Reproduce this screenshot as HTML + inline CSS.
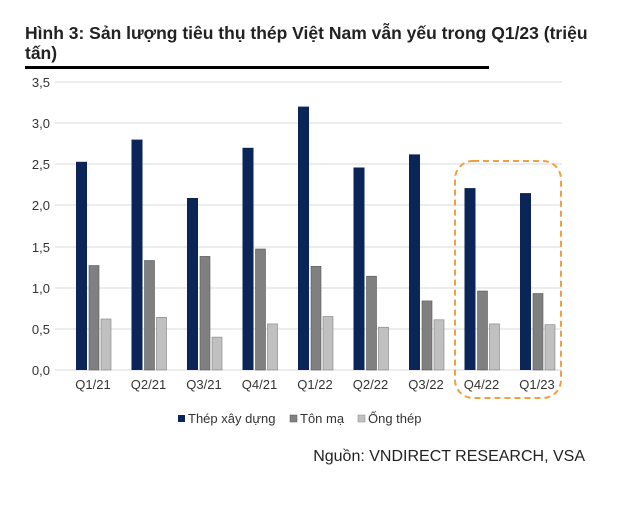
<!DOCTYPE html>
<html><head><meta charset="utf-8"><style>
body{margin:0;background:#fff;width:626px;height:506px;overflow:hidden;font-family:"Liberation Sans",Arial,sans-serif}
</style></head><body>
<svg width="626" height="506" xmlns="http://www.w3.org/2000/svg" font-family="Liberation Sans, Arial, sans-serif">
<text x="25" y="39" font-size="17.5" font-weight="bold" fill="#222">Hình 3: Sản lượng tiêu thụ thép Việt Nam vẫn yếu trong Q1/23 (triệu</text>
<text x="25" y="59" font-size="17.5" font-weight="bold" fill="#222">tấn)</text>
<rect x="25" y="66" width="464" height="3" fill="#000"/>
<g stroke="#d9d9d9" stroke-width="1">
<line x1="55" x2="562" y1="82" y2="82"/><line x1="55" x2="562" y1="123" y2="123"/><line x1="55" x2="562" y1="164" y2="164"/><line x1="55" x2="562" y1="205" y2="205"/><line x1="55" x2="562" y1="247" y2="247"/><line x1="55" x2="562" y1="288" y2="288"/><line x1="55" x2="562" y1="329" y2="329"/><line x1="55" x2="562" y1="370" y2="370"/>
</g>
<g font-size="13" fill="#333" text-anchor="end">
<text x="50" y="87">3,5</text><text x="50" y="128">3,0</text><text x="50" y="169">2,5</text><text x="50" y="210">2,0</text><text x="50" y="252">1,5</text><text x="50" y="293">1,0</text><text x="50" y="334">0,5</text><text x="50" y="375">0,0</text>
</g>
<g fill="#0b2558">
<rect x="76" y="161.8" width="11" height="208.2"/><rect x="131.5" y="139.6" width="11" height="230.4"/><rect x="187" y="198" width="11" height="172"/><rect x="242.5" y="147.8" width="11" height="222.2"/><rect x="298" y="106.6" width="11" height="263.4"/><rect x="353.5" y="167.5" width="11" height="202.5"/><rect x="409" y="154.4" width="11" height="215.6"/><rect x="464.5" y="188.1" width="11" height="181.9"/><rect x="520" y="193.1" width="11" height="176.9"/>
</g>
<g fill="#808080" stroke="#5a5a5a" stroke-width="0.6">
<rect x="89" y="265.5" width="10" height="104.5"/><rect x="144.5" y="260.5" width="10" height="109.5"/><rect x="200" y="256.4" width="10" height="113.6"/><rect x="255.5" y="249" width="10" height="121"/><rect x="311" y="266.3" width="10" height="103.7"/><rect x="366.5" y="276.2" width="10" height="93.8"/><rect x="422" y="300.9" width="10" height="69.1"/><rect x="477.5" y="291" width="10" height="79"/><rect x="533" y="293.5" width="10" height="76.5"/>
</g>
<g fill="#c0c0c0" stroke="#808080" stroke-width="0.6">
<rect x="101" y="319" width="10" height="51"/><rect x="156.5" y="317.3" width="10" height="52.7"/><rect x="212" y="337.1" width="10" height="32.9"/><rect x="267.5" y="323.9" width="10" height="46.1"/><rect x="323" y="316.5" width="10" height="53.5"/><rect x="378.5" y="327.2" width="10" height="42.8"/><rect x="434" y="319.8" width="10" height="50.2"/><rect x="489.5" y="323.9" width="10" height="46.1"/><rect x="545" y="324.7" width="10" height="45.3"/>
</g>
<g font-size="13" fill="#333" text-anchor="middle">
<text x="93" y="389">Q1/21</text><text x="148.5" y="389">Q2/21</text><text x="204" y="389">Q3/21</text><text x="259.5" y="389">Q4/21</text><text x="315" y="389">Q1/22</text><text x="370.5" y="389">Q2/22</text><text x="426" y="389">Q3/22</text><text x="481.5" y="389">Q4/22</text><text x="537" y="389">Q1/23</text>
</g>
<rect x="455" y="161" width="106" height="237" rx="18" fill="none" stroke="#f0a040" stroke-width="2" stroke-dasharray="6,4"/>
<g font-size="13" fill="#333">
<rect x="178" y="415" width="7" height="7" fill="#0b2558"/><text x="188" y="423">Thép xây dựng</text>
<rect x="290" y="415" width="7" height="7" fill="#808080" stroke="#555" stroke-width="0.5"/><text x="300" y="423">Tôn mạ</text>
<rect x="358" y="415" width="7" height="7" fill="#c0c0c0" stroke="#888" stroke-width="0.5"/><text x="368" y="423">Ống thép</text>
</g>
<text x="585" y="461" font-size="16" fill="#222" text-anchor="end">Nguồn: VNDIRECT RESEARCH, VSA</text>
</svg>
</body></html>
